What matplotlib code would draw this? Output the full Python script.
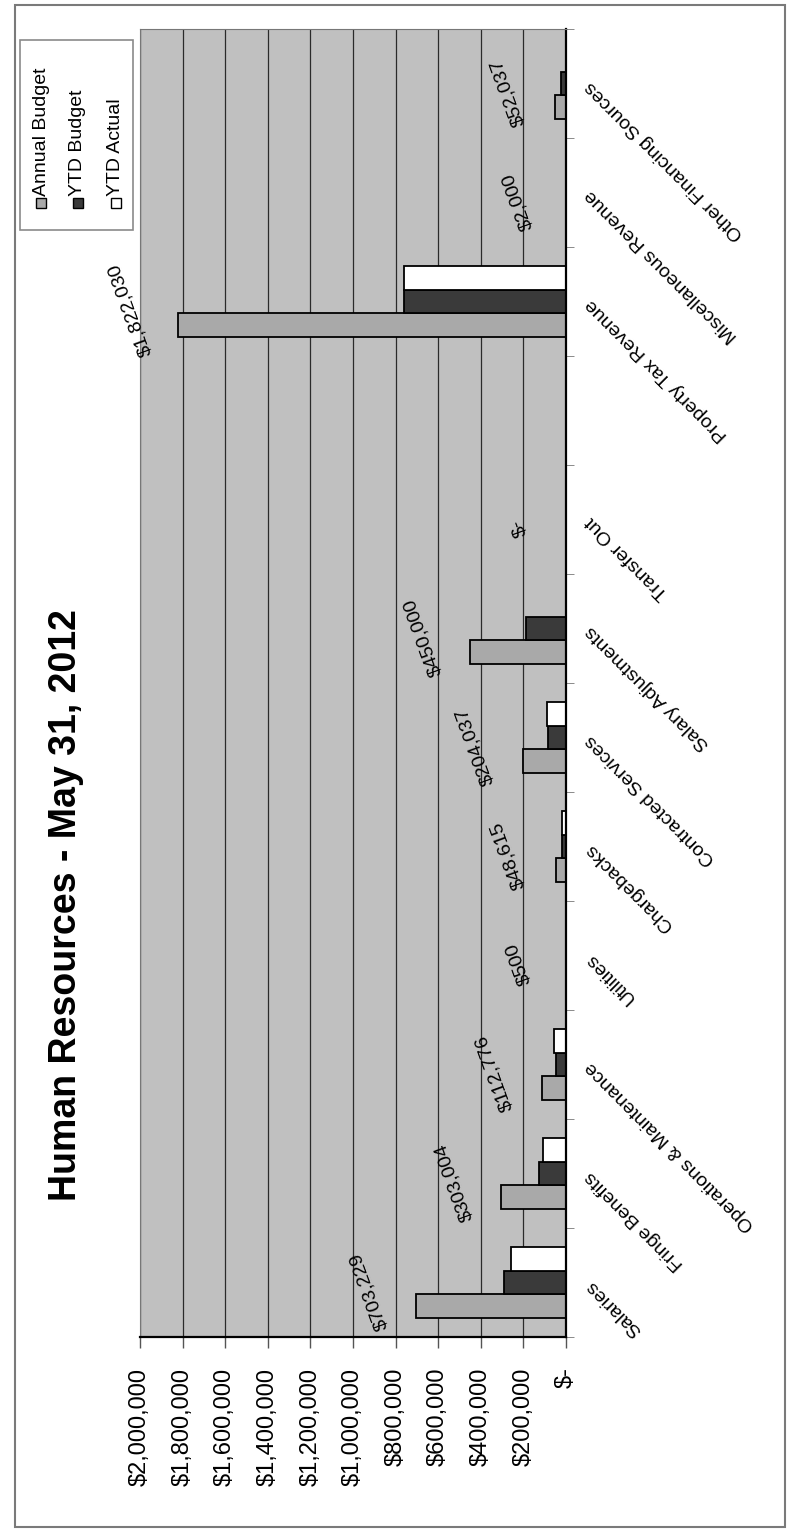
import matplotlib
matplotlib.use("Agg")
import matplotlib.pyplot as plt
import numpy as np
from matplotlib.patches import Rectangle

plt.rcParams['font.family'] = ['Liberation Sans', 'DejaVu Sans']

# data
categories = ['Salaries', 'Fringe Benefits', 'Operations & Maintenance', 'Utilities',
              'Chargebacks', 'Contracted Services', 'Salary Adjustments', 'Transfer Out',
              '', 'Property Tax Revenue', 'Miscellaneous Revenue', 'Other Financing Sources']
annual_budget = [703229, 303004, 112776, 500, 48615, 204037, 450000, 0, 0, 1822030, 2000, 52037]
ytd_budget = [293000, 126000, 47000, 200, 20000, 85000, 187500, 0, 0, 759000, 800, 21700]
ytd_actual = [256000, 108000, 58000, 0, 18000, 88000, 0, 0, 0, 759000, 0, 0]
series_names = ['Annual Budget', 'YTD Budget', 'YTD Actual']
series_colors = ['#a9a9a9', '#3a3a3a', '#ffffff']
value_ticks = [0, 200000, 400000, 600000, 800000, 1000000, 1200000, 1400000,
               1600000, 1800000, 2000000]

W, H = 798, 1530
fig = plt.figure(figsize=(W / 100, H / 100), dpi=100)

def fx(px):
    return px / W

def fy(py):
    return 1 - py / H

# outer chart frame
fig.patches.append(Rectangle((fx(15), fy(1527)), fx(785) - fx(15), fy(5) - fy(1527),
                             transform=fig.transFigure, fill=False,
                             edgecolor='#7a7a7a', lw=1.5))

# the chart is printed turned on its side: values run right-to-left
ax = fig.add_axes([fx(140), fy(1337), fx(566) - fx(140), fy(29) - fy(1337)])
ax.set_facecolor('#c0c0c0')
ax.set_xlim(2000000, 0)
ax.set_ylim(-0.5, len(categories) - 0.5)

ax.set_xticks(value_ticks)
ax.set_xticklabels(['$-' if v == 0 else '${:,}'.format(v) for v in value_ticks],
                   rotation=90, fontsize=17)
ax.tick_params(axis='x', length=8, width=1, pad=14, color='#555555')
ax.grid(axis='x', color='#2a2a2a', lw=0.9)
ax.set_axisbelow(True)

y = np.arange(len(categories))
h = 0.22
ax.barh(y - h, annual_budget, height=h, color=series_colors[0], edgecolor='black', lw=1.3)
ax.barh(y, ytd_budget, height=h, color=series_colors[1], edgecolor='black', lw=1.3)
ax.barh(y + h, ytd_actual, height=h, color=series_colors[2], edgecolor='black', lw=1.3)

# category labels on the right, slanted like the original
ax.set_yticks(y)
ax.set_yticklabels(categories, fontsize=14)
ax.yaxis.set_ticks_position('right')
ax.tick_params(axis='y', length=0, pad=16, labelright=True, labelleft=False)
for lbl in ax.get_yticklabels():
    lbl.set_rotation(135)
    lbl.set_rotation_mode('anchor')
    lbl.set_ha('right')
    lbl.set_va('center')
ax.set_yticks(np.arange(len(categories) + 1) - 0.5, minor=True)
ax.tick_params(axis='y', which='minor', length=6, color='#777777', right=True, left=False)

for s in ['left', 'top']:
    ax.spines[s].set_color('#777777')
    ax.spines[s].set_linewidth(0.8)
for s in ['right', 'bottom']:
    ax.spines[s].set_color('black')
    ax.spines[s].set_linewidth(1.6)

# data labels for the annual budget
for i, v in enumerate(annual_budget):
    if categories[i] == '':
        continue
    txt = '$-' if v == 0 else '${:,}'.format(v)
    ax.annotate(txt, xy=(v, i), xytext=(-34, -6), textcoords='offset points',
                rotation=110, ha='center', va='center', fontsize=14, annotation_clip=False)

# title
fig.text(fx(66), fy(905), 'Human Resources - May 31, 2012', rotation=90,
         fontsize=27, fontweight='bold', ha='center', va='center')

# legend box, drawn turned like the rest of the chart
fig.patches.append(Rectangle((fx(20), fy(230)), fx(133) - fx(20), fy(40) - fy(230),
                             transform=fig.transFigure, facecolor='white',
                             edgecolor='#8a8a8a', lw=1.2, zorder=5))
for cx, name, col in zip([41, 78, 116], series_names, series_colors):
    fig.patches.append(Rectangle((fx(cx - 5), fy(208)), fx(10), 10 / H,
                                 transform=fig.transFigure, facecolor=col,
                                 edgecolor='black', lw=1, zorder=6))
    fig.text(fx(cx), fy(196), name, rotation=90, fontsize=14,
             ha='center', va='bottom', zorder=6)

fig.savefig('out.png', dpi=100)
